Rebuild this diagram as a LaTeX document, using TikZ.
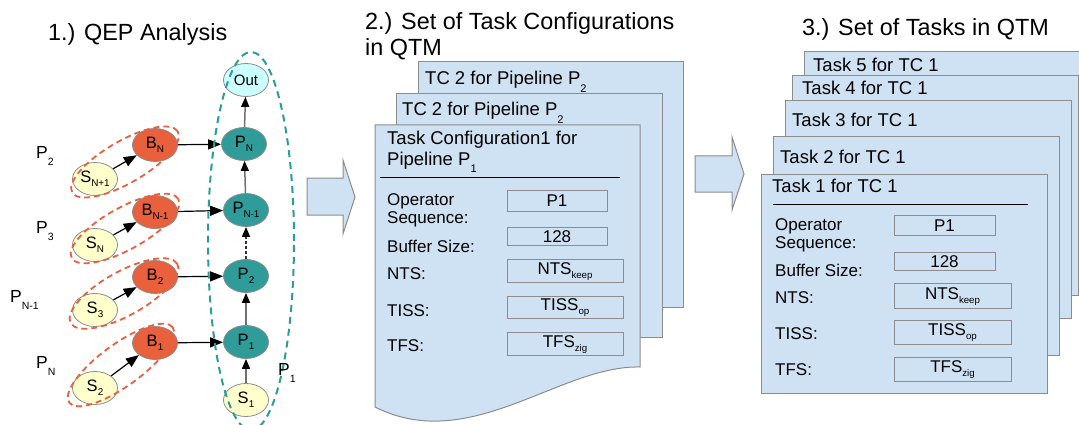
\documentclass[tikz,border=0pt]{standalone}
\usepackage{fontspec}
\setmainfont{Liberation Sans}
\usetikzlibrary{shapes.geometric,arrows.meta}

\definecolor{pagefill}{HTML}{CFE2F3}
\definecolor{pageline}{HTML}{8C8C8C}
\definecolor{srcfill}{HTML}{FFFFCC}
\definecolor{buffill}{HTML}{E8603C}
\definecolor{pipefill}{HTML}{2F9C9A}
\definecolor{outfill}{HTML}{CCFFFF}
\definecolor{grpred}{HTML}{E8603C}
\definecolor{grpteal}{HTML}{2A9D9B}
\definecolor{edgegray}{HTML}{707070}

% lowered, reduced subscripts
\newcommand{\lsub}[1]{\raisebox{-0.42em}{\scalebox{0.6}{#1}}}
\newcommand{\nsub}[1]{\raisebox{-0.25em}{\scalebox{0.6}{#1}}}
\newcommand{\vsub}[1]{\raisebox{-0.25em}{\scalebox{0.57}{#1}}}

\tikzset{
  op/.style={ellipse, draw=pageline, line width=0.8pt, minimum width=45pt,
    minimum height=33pt, inner sep=0pt, font=\fontsize{16.5}{19}\selectfont},
  src/.style={op, fill=srcfill},
  buf/.style={op, fill=buffill},
  pipe/.style={op, fill=pipefill},
  sink/.style={op, fill=outfill, font=\fontsize{15}{18}\selectfont},
  flow/.style={draw=black, line width=1.2pt, -{Triangle[length=13pt,width=10pt]}},
  chain/.style={draw=edgegray, line width=1.5pt, -{Triangle[length=10pt,width=8pt,color=black]}},
  grpS/.style={draw=grpred, line width=1.8pt, dash pattern=on 6pt off 4pt},
  grpP/.style={draw=grpteal, line width=2pt, dash pattern=on 7pt off 5pt},
  page/.style={draw=pageline, fill=pagefill, line width=1pt},
  bigarrow/.style={draw=pageline, fill=pagefill, line width=1pt},
  title/.style={anchor=base west, inner sep=0pt, font=\fontsize{23.4}{28}\selectfont},
  head/.style={anchor=base west, inner sep=0pt, font=\fontsize{18.5}{22}\selectfont},
  field/.style={anchor=base west, inner sep=0pt, font=\fontsize{17}{20}\selectfont},
  valbox/.style={draw=pageline, line width=1pt, inner sep=0pt,
    font=\fontsize{17}{20}\selectfont, text height=12.2pt, text depth=0pt},
  valsub/.style={valbox, text depth=5pt},
  plabel/.style={anchor=base west, inner sep=0pt, font=\fontsize{17.5}{20}\selectfont},
}

\begin{document}
\begin{tikzpicture}[x=1pt, y=-1pt]
\clip (0,0) rectangle (1079,425);

% ---------- titles ----------
\node[title] (t1) at (48,41) {1.) QEP Analysis};
\node[title] (t2a) at (365,30) {2.) Set of Task Configurations};
\node[title] (t2b) at (365,56) {in QTM};
\node[title] (t3) at (802,36) {3.) Set of Tasks in QTM};

% ---------- 1.) query execution plan ----------
\node[sink] (out) at (246,80) {Out};
\node[pipe] (pN)  at (244,144) {P\nsub{N}};
\node[pipe] (pN1) at (246,210) {P\nsub{N-1}};
\node[pipe] (p2)  at (246,276) {P\nsub{2}};
\node[pipe] (p1)  at (246,342) {P\nsub{1}};
\node[src]  (s1)  at (246,400) {S\nsub{1}};

\node[buf] (bN)  at (155,145) {B\nsub{N}};
\node[buf] (bN1) at (155,212) {B\nsub{N-1}};
\node[buf] (b2)  at (155,277) {B\nsub{2}};
\node[buf] (b1)  at (155,343) {B\nsub{1}};

\node[src] (sN1) at (95,179) {S\nsub{N+1}};
\node[src] (sN)  at (95,245) {S\nsub{N}};
\node[src] (s3)  at (95,310) {S\nsub{3}};
\node[src] (s2)  at (95,388) {S\nsub{2}};

\draw[flow] (sN1) -- (bN);
\draw[flow] (sN) -- (bN1);
\draw[flow] (s3) -- (b2);
\draw[flow] (s2) -- (b1);

\draw[flow] (bN) -- (pN);
\draw[flow] (bN1) -- (pN1);
\draw[flow] (b2) -- (p2);
\draw[flow] (b1) -- (p1);

\draw[chain] (s1) -- (p1);
\draw[chain] (p1) -- (p2);
\draw[chain, draw=black!80, dash pattern=on 3pt off 2pt] (p2) -- (pN1);
\draw[chain] (pN1) -- (pN);
\draw[chain] (pN) -- (out);

% pipeline groups
\draw[grpS, rotate around={30:(125,162)}] (125,162) ellipse [x radius=61pt, y radius=21pt];
\draw[grpS, rotate around={29:(125,228.5)}] (125,228.5) ellipse [x radius=61pt, y radius=21pt];
\draw[grpS, rotate around={29:(124,293.5)}] (124,293.5) ellipse [x radius=61pt, y radius=22pt];
\draw[grpS, rotate around={36:(121,365)}] (121,365) ellipse [x radius=64pt, y radius=21pt];
\draw[grpP] (251,241) ellipse [x radius=43pt, y radius=189pt];

\node[plabel] (lP2)  at (36,158) {P\lsub{2}};
\node[plabel] (lP3)  at (36,233) {P\lsub{3}};
\node[plabel] (lPN1) at (10,302) {P\lsub{N-1}};
\node[plabel] (lPN)  at (36,368) {P\lsub{N}};
\node[plabel] (lP1)  at (278,375) {P\lsub{1}};

% ---------- block arrows ----------
\draw[bigarrow] (307,178) -- (343,178) -- (343,160) -- (355,197) -- (343,234)
  -- (343,215) -- (307,215) -- cycle;
\draw[bigarrow] (695,156) -- (732,156) -- (732,137) -- (744,174) -- (732,210)
  -- (732,192) -- (695,192) -- cycle;

% ---------- 2.) task configurations ----------
\draw[page] (418,62) rectangle (683,307);
\node[head] (tcb) at (425,85) {TC 2 for Pipeline P\lsub{2}};
\draw[page] (396,94) rectangle (662,337);
\node[head] (tcm) at (402,116) {TC 2 for Pipeline P\lsub{2}};
\draw[page] (375,125) -- (640,125) -- (640,367)
  .. controls (560,365) and (470,455) .. (375,407) -- cycle;
\node[head] (tcf1) at (387,145) {Task Configuration1 for};
\node[head] (tcf2) at (387,165) {Pipeline P\lsub{1}};
\draw[line width=1pt] (380,177) -- (620,177);

\node[field] (cOp)  at (387,205) {Operator};
\node[field] (cSeq) at (387,223) {Sequence:};
\node[field] (cBuf) at (387,252) {Buffer Size:};
\node[field] (cNTS) at (387,279) {NTS:};
\node[field] (cTIS) at (387,316) {TISS:};
\node[field] (cTFS) at (387,351) {TFS:};

\node[valbox, minimum width=100pt, minimum height=21pt] (cvOp)  at (557,200.5) {P1};
\node[valbox, minimum width=100pt, minimum height=18pt] (cvBuf) at (557,236) {128};
\node[valsub, minimum width=116pt, minimum height=23pt] (cvNTS) at (565,270.5) {NTS\vsub{keep}};
\node[valsub, minimum width=116pt, minimum height=22pt] (cvTIS) at (565,307) {TISS\vsub{op}};
\node[valsub, minimum width=116pt, minimum height=23pt] (cvTFS) at (565,343.5) {TFS\vsub{zig}};

% ---------- 3.) tasks ----------
\draw[page] (804,52) rectangle (1095,272);
\node[head] (k5) at (813,72) {Task 5 for TC 1};
\draw[page] (792,76) rectangle (1078,295);
\node[head] (k4) at (802,95) {Task 4 for TC 1};
\draw[page] (785,101) rectangle (1071,318);
\node[head] (k3) at (792,127) {Task 3 for TC 1};
\draw[page] (773,137) rectangle (1059,355);
\node[head] (k2) at (780,164) {Task 2 for TC 1};
\draw[page] (761,174) rectangle (1047,393);
\node[head] (k1) at (772,193) {Task 1 for TC 1};
\draw[line width=1pt] (773,204) -- (1028,204);

\node[field] (tOp)  at (775,230) {Operator};
\node[field] (tSeq) at (775,248) {Sequence:};
\node[field] (tBuf) at (775,276) {Buffer Size:};
\node[field] (tNTS) at (775,303) {NTS:};
\node[field] (tTIS) at (775,339) {TISS:};
\node[field] (tTFS) at (775,375) {TFS:};

\node[valbox, minimum width=101pt, minimum height=20pt] (tvOp)  at (944.5,225) {P1};
\node[valbox, minimum width=101pt, minimum height=18pt] (tvBuf) at (944.5,261) {128};
\node[valsub, minimum width=117pt, minimum height=25pt] (tvNTS) at (952.5,295.5) {NTS\vsub{keep}};
\node[valsub, minimum width=117pt, minimum height=24pt] (tvTIS) at (952.5,332) {TISS\vsub{op}};
\node[valsub, minimum width=117pt, minimum height=24pt] (tvTFS) at (952.5,369) {TFS\vsub{zig}};
\end{tikzpicture}
\end{document}
